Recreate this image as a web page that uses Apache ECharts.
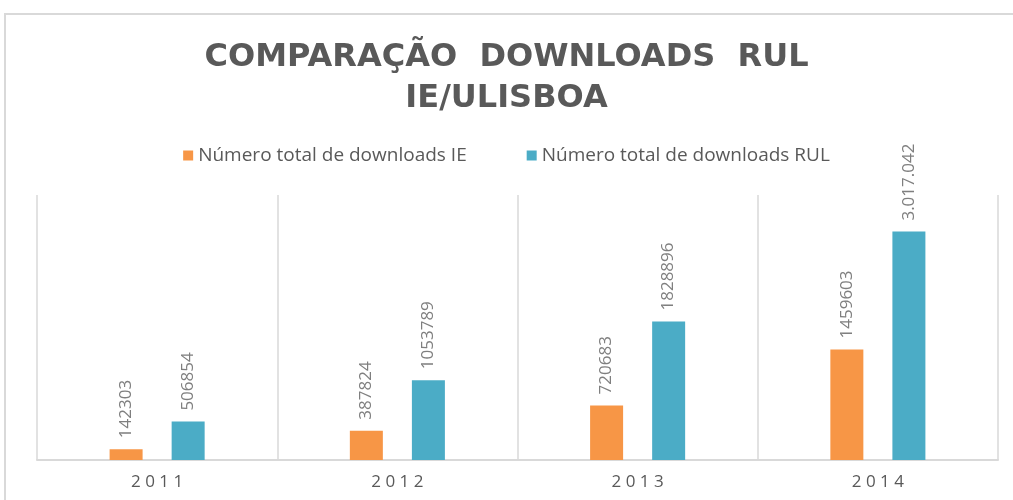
<!DOCTYPE html>
<html>
<head>
<meta charset="utf-8">
<script src="https://cdn.jsdelivr.net/npm/echarts@6/dist/echarts.min.js"></script>
<style>
  html, body { margin: 0; padding: 0; background: #fff; }
  #chart { width: 1013px; height: 500px; }
</style>
</head>
<body>
<div id="chart"></div>
<script>
// dados
const anos = ['2011', '2012', '2013', '2014'];
const downloadsIE = [142303, 387824, 720683, 1459603];
const downloadsRUL = [506854, 1053789, 1828896, 3017042];
const rotulosIE = ['142303', '387824', '720683', '1459603'];
const rotulosRUL = ['506854', '1053789', '1828896', '3.017.042'];
const nomesSeries = ['Número total de downloads IE', 'Número total de downloads RUL'];

const chartDom = document.getElementById('chart');
const myChart = echarts.init(chartDom);

const labelStyle = function(rotulos) {
  return {
    show: true,
    position: 'top',
    rotate: 90,
    align: 'left',
    verticalAlign: 'middle',
    distance: 11,
    color: '#7f7f7f',
    fontFamily: 'Open Sans',
    fontSize: 17,
    formatter: function(p) { return rotulos[p.dataIndex]; }
  };
};

const option = {
  animation: false,
  backgroundColor: '#fff',
  graphic: [{
    type: 'rect',
    shape: { x: 5, y: 14, width: 1200, height: 600 },
    style: { fill: 'none', stroke: '#d9d9d9', lineWidth: 2 },
    silent: true
  }],
  title: {
    text: 'COMPARAÇÃO  DOWNLOADS  RUL\nIE/ULISBOA',
    left: 'center',
    top: 32,
    textStyle: {
      fontFamily: 'DejaVu Sans',
      fontWeight: 'bold',
      fontSize: 32,
      lineHeight: 41,
      color: '#595959'
    }
  },
  legend: {
    data: nomesSeries,
    top: 141,
    left: 'center',
    icon: 'rect',
    itemWidth: 10,
    itemHeight: 10,
    itemGap: 60,
    textStyle: {
      fontFamily: 'Open Sans',
      fontSize: 19,
      color: '#595959'
    }
  },
  grid: {
    left: 37,
    right: 15,
    top: 195,
    bottom: 40
  },
  xAxis: {
    type: 'category',
    data: anos,
    axisTick: { show: false },
    axisLine: { lineStyle: { color: '#d9d9d9', width: 2 } },
    splitLine: { show: true, interval: 0, lineStyle: { color: '#d9d9d9', width: 1.5 } },
    axisLabel: {
      margin: 14,
      color: '#595959',
      fontFamily: 'Open Sans',
      fontSize: 17,
      formatter: function(v) { return v.split('').join(' '); }
    }
  },
  yAxis: {
    type: 'value',
    min: 0,
    max: 3500000,
    show: false,
    splitLine: { show: false }
  },
  series: [
    {
      name: nomesSeries[0],
      type: 'bar',
      data: downloadsIE,
      barWidth: 33,
      barGap: '88%',
      itemStyle: { color: '#f79646' },
      label: labelStyle(rotulosIE)
    },
    {
      name: nomesSeries[1],
      type: 'bar',
      data: downloadsRUL,
      barWidth: 33,
      barGap: '88%',
      itemStyle: { color: '#4bacc6' },
      label: labelStyle(rotulosRUL)
    }
  ]
};

myChart.setOption(option);
window.addEventListener('resize', function() {
  myChart.resize();
});
</script>
</body>
</html>
